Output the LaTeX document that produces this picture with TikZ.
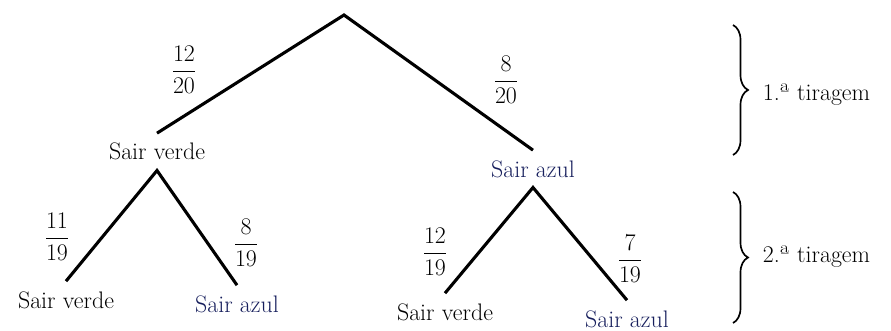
\RequirePackage{fix-cm}
\documentclass[tikz,border=0pt]{standalone}
\usepackage{amsmath}
\usepackage{xcolor}
\usepackage{tikz}
\usetikzlibrary{decorations.pathreplacing}
\definecolor{azulTexto}{RGB}{22,30,92}

\begin{document}
\begin{tikzpicture}[font=\fontsize{17}{20}\selectfont,
  ramo/.style={line width=2.2pt},
  rotulo/.style={anchor=base, inner sep=7pt},
  chaveta/.style={decorate, decoration={brace, amplitude=0.375cm}, line width=1.2pt}]

\useasboundingbox (0,0) rectangle (22.275,8.25);

% Raiz
\coordinate (raiz) at (8.6,7.875);

% Resultados 1.a tiragem
\node[rotulo] (v1) at (3.925,4.25) {Sair verde};
\node[rotulo, azulTexto] (a1) at (13.325,3.825) {Sair azul};

% Resultados 2.a tiragem
\node[rotulo] (vv) at (1.65,0.55) {Sair verde};
\node[rotulo, azulTexto] (va) at (5.925,0.45) {Sair azul};
\node[rotulo] (av) at (11.125,0.25) {Sair verde};
\node[rotulo, azulTexto] (aa) at (15.675,0.075) {Sair azul};

% Ramos
\draw[ramo] (v1.north) -- (raiz) -- (a1.north);
\draw[ramo] (vv.north) -- (v1.south) -- (va.north);
\draw[ramo] (av.north) -- (a1.south) -- (aa.north);

% Probabilidades
\node (p1) at (4.6,6.5) {$\dfrac{12}{20}$};
\node (p2) at (12.65,6.25) {$\dfrac{8}{20}$};
\node (p3) at (1.425,2.325) {$\dfrac{11}{19}$};
\node (p4) at (6.15,2.175) {$\dfrac{8}{19}$};
\node (p5) at (10.875,1.95) {$\dfrac{12}{19}$};
\node (p6) at (15.75,1.775) {$\dfrac{7}{19}$};

% Chavetas
\coordinate (c1a) at (18.325,7.625);
\coordinate (c1b) at (18.325,4.375);
\draw[chaveta] (c1a) -- (c1b);
\node[anchor=west] (t1) at (18.95,5.875) {1.ª tiragem};

\coordinate (c2a) at (18.325,3.45);
\coordinate (c2b) at (18.325,0.175);
\draw[chaveta] (c2a) -- (c2b);
\node[anchor=west] (t2) at (18.95,1.825) {2.ª tiragem};

\end{tikzpicture}
\end{document}
